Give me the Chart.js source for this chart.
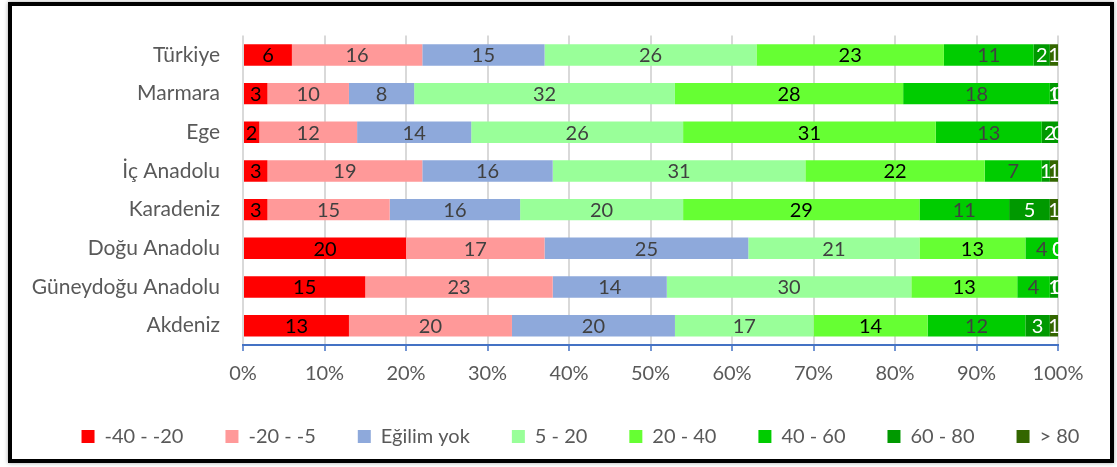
<!DOCTYPE html>
<html lang="tr">
<head>
<meta charset="utf-8">
<title>Bölgelere göre eğilim dağılımı</title>
<script src="https://cdn.jsdelivr.net/npm/chart.js@4.4.1/dist/chart.umd.min.js"></script>
<style>
  html, body { margin: 0; padding: 0; background: #fff; overflow: hidden; }
  #wrap { position: relative; width: 1117px; height: 467px; }
  #chart { display: block; }
  #frame {
    position: absolute; left: 8px; top: 2px; width: 1106px; height: 461px;
    box-sizing: border-box; border: 4px solid #000;
    box-shadow: 0 0 4px rgba(0, 0, 0, 0.35);
    pointer-events: none;
  }
</style>
</head>
<body>
<div id="wrap">
  <canvas id="chart" width="1117" height="467"></canvas>
  <div id="frame"></div>
</div>
<script>
// regions, top to bottom
const regions = ['Türkiye', 'Marmara', 'Ege', 'İç Anadolu', 'Karadeniz', 'Doğu Anadolu', 'Güneydoğu Anadolu', 'Akdeniz'];

// trend bands (legend order)
const bands = ['-40 - -20', '-20 - -5', 'Eğilim yok', '5 - 20', '20 - 40', '40 - 60', '60 - 80', '> 80'];

// share (%) of each band per region, same order as `regions`
const band40to20 = [6, 3, 2, 3, 3, 20, 15, 13];
const band20to5 = [16, 10, 12, 19, 15, 17, 23, 20];
const noTrend = [15, 8, 14, 16, 16, 25, 14, 20];
const band5to20 = [26, 32, 26, 31, 20, 21, 30, 17];
const band20to40 = [23, 28, 31, 22, 29, 13, 13, 14];
const band40to60 = [11, 18, 13, 7, 11, 4, 4, 12];
const band60to80 = [2, 1, 2, 1, 5, 0, 1, 3];
const bandOver80 = [1, 0, 0, 1, 1, 0, 0, 1];

const xTicks = [0, 10, 20, 30, 40, 50, 60, 70, 80, 90, 100];

const seriesValues = [band40to20, band20to5, noTrend, band5to20, band20to40, band40to60, band60to80, bandOver80];
const fillColors = ['#FF0000', '#FF9999', '#8EA9DB', '#99FF99', '#66FF33', '#00CC00', '#009900', '#336600'];
const textColors = ['#000000', '#404040', '#404040', '#404040', '#000000', '#404040', '#FFFFFF', '#FFFFFF'];

const FONT = 'Lato';
const GREY_TEXT = '#595959';
const LEGEND_DX = 22;

// value printed in the middle of every segment
const segmentLabels = {
  id: 'segmentLabels',
  afterDatasetsDraw(chart) {
    const ctx = chart.ctx;
    ctx.save();
    ctx.font = `20px ${FONT}`;
    ctx.textAlign = 'center';
    ctx.textBaseline = 'middle';
    chart.data.datasets.forEach((ds, i) => {
      const meta = chart.getDatasetMeta(i);
      if (meta.hidden) return;
      meta.data.forEach((bar, j) => {
        const { x, y, base } = bar.getProps(['x', 'y', 'base'], true);
        ctx.fillStyle = textColors[i];
        ctx.fillText(String(ds.data[j]), (x + base) / 2, y + 1);
      });
    });
    ctx.restore();
  }
};

// nudge the legend row a little to the right
const legendShift = {
  id: 'legendShift',
  afterLayout(chart) {
    if (!chart.legend) return;
    chart.legend.left += LEGEND_DX;
    chart.legend.right += LEGEND_DX;
  }
};

new Chart(document.getElementById('chart'), {
  type: 'bar',
  data: {
    labels: regions,
    datasets: bands.map((name, i) => ({
      label: name,
      data: seriesValues[i],
      backgroundColor: fillColors[i],
      borderColor: fillColors[i],
      borderWidth: 0,
      barPercentage: 0.555,
      categoryPercentage: 1
    }))
  },
  options: {
    indexAxis: 'y',
    responsive: false,
    animation: false,
    devicePixelRatio: 1,
    layout: { padding: { top: 33, left: 0, right: 0, bottom: 10.5 } },
    scales: {
      x: {
        stacked: true,
        min: 0,
        max: 100,
        afterBuildTicks(scale) {
          scale.ticks = xTicks.map(v => ({ value: v }));
        },
        afterFit(scale) { scale.height = 39.5; },
        grid: {
          color: '#D9D9D9',
          lineWidth: 2,
          tickColor: '#4472C4',
          tickWidth: 1.5,
          tickLength: 6
        },
        border: { color: '#4472C4', width: 2 },
        ticks: {
          padding: 11,
          color: GREY_TEXT,
          font: { family: FONT, size: 20 },
          callback: v => v + '%'
        }
      },
      y: {
        stacked: true,
        afterFit(scale) { scale.width = 243; },
        grid: { display: false, drawTicks: false },
        border: { display: false },
        ticks: {
          padding: 23,
          color: GREY_TEXT,
          font: { family: FONT, size: 21 }
        }
      },
      // keeps room on the right of the plot for the "100%" label
      yRight: {
        axis: 'y',
        type: 'linear',
        position: 'right',
        display: true,
        afterFit(scale) { scale.width = 59; },
        grid: { display: false, drawTicks: false },
        border: { display: false },
        ticks: { display: false }
      }
    },
    plugins: {
      tooltip: { enabled: false },
      legend: {
        position: 'bottom',
        labels: {
          boxWidth: 13,
          boxHeight: 13,
          padding: 42,
          color: GREY_TEXT,
          font: { family: FONT, size: 20 }
        }
      }
    }
  },
  plugins: [segmentLabels, legendShift]
});
</script>
</body>
</html>
